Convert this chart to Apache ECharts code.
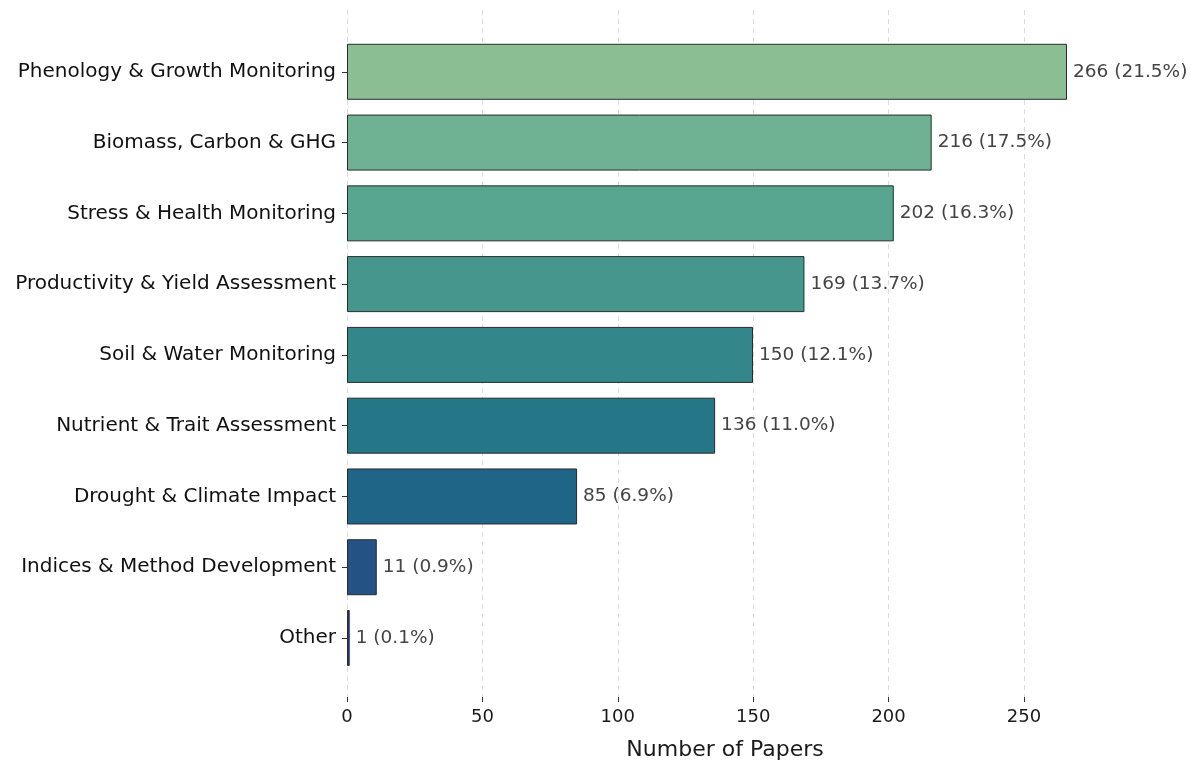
<!DOCTYPE html>
<html>
<head>
<meta charset="utf-8">
<script src="https://cdn.jsdelivr.net/npm/echarts@6/dist/echarts.min.js"></script>
<style>
html,body{margin:0;padding:0;background:#fff;}
#chart{width:1191px;height:765px;}
</style>
</head>
<body>
<div id="chart"></div>
<script>
const categories = [
  'Phenology & Growth Monitoring',
  'Biomass, Carbon & GHG',
  'Stress & Health Monitoring',
  'Productivity & Yield Assessment',
  'Soil & Water Monitoring',
  'Nutrient & Trait Assessment',
  'Drought & Climate Impact',
  'Indices & Method Development',
  'Other'
];
const paperCounts = [266, 216, 202, 169, 150, 136, 85, 11, 1];
const percentages = [21.5, 17.5, 16.3, 13.7, 12.1, 11.0, 6.9, 0.9, 0.1];
const barColors = ['#8bbe92', '#6fb293', '#59a690', '#46968e', '#33878b', '#257788', '#1e6588', '#255285', '#2d3b7b'];
const xTicks = [0, 50, 100, 150, 200, 250];
const xAxisTitle = 'Number of Papers';

const FONT = 'DejaVu Sans';
const X_MAX = 279.3;

const chart = echarts.init(document.getElementById('chart'), null, {renderer: 'canvas'});
chart.setOption({
  backgroundColor: '#ffffff',
  animation: false,
  textStyle: {fontFamily: FONT},
  title: {
    text: xAxisTitle, left: 725, top: 739, textAlign: 'center', padding: 0,
    textStyle: {fontSize: 22, fontWeight: 'normal', color: '#1a1a1a', fontFamily: FONT}
  },
  grid: [
    {left: 347, right: 167, top: 10, bottom: 68, containLabel: false},
    {left: 347, right: 88, top: 36.4, bottom: 91.6, containLabel: false}
  ],
  xAxis: [
    {
      gridIndex: 0, type: 'value', min: 0, max: 250, interval: 50,
      axisLine: {show: false},
      axisTick: {show: true, length: 5, lineStyle: {color: '#333'}},
      axisLabel: {fontSize: 18, color: '#1a1a1a', margin: 11, fontFamily: FONT,
        formatter: v => xTicks.includes(v) ? String(v) : ''},
      splitLine: {show: true, lineStyle: {type: [5, 4], color: '#dcdcdc', width: 1}}
    },
    {
      gridIndex: 1, type: 'value', min: 0, max: X_MAX, interval: 50,
      axisLine: {show: false}, axisTick: {show: false}, axisLabel: {show: false}, splitLine: {show: false}
    }
  ],
  yAxis: [
    {gridIndex: 0, type: 'value', show: false},
    {
      gridIndex: 1, type: 'category', data: categories, inverse: true,
      axisLine: {show: false},
      axisTick: {show: true, alignWithLabel: true, length: 5, lineStyle: {color: '#333'}},
      axisLabel: {fontSize: 20, color: '#111', margin: 11, fontFamily: FONT},
      splitLine: {show: false}
    }
  ],
  series: [{
    type: 'bar',
    xAxisIndex: 1, yAxisIndex: 1,
    data: paperCounts.map((v, i) => ({value: v, itemStyle: {color: barColors[i]}})),
    barWidth: 56,
    itemStyle: {borderColor: '#2a2a2a', borderWidth: 1},
    label: {
      show: true, position: 'right', distance: 6,
      color: '#444', fontSize: 18.5, fontFamily: FONT,
      formatter: p => p.value + ' (' + percentages[p.dataIndex].toFixed(1) + '%)'
    }
  }]
});
</script>
</body>
</html>
